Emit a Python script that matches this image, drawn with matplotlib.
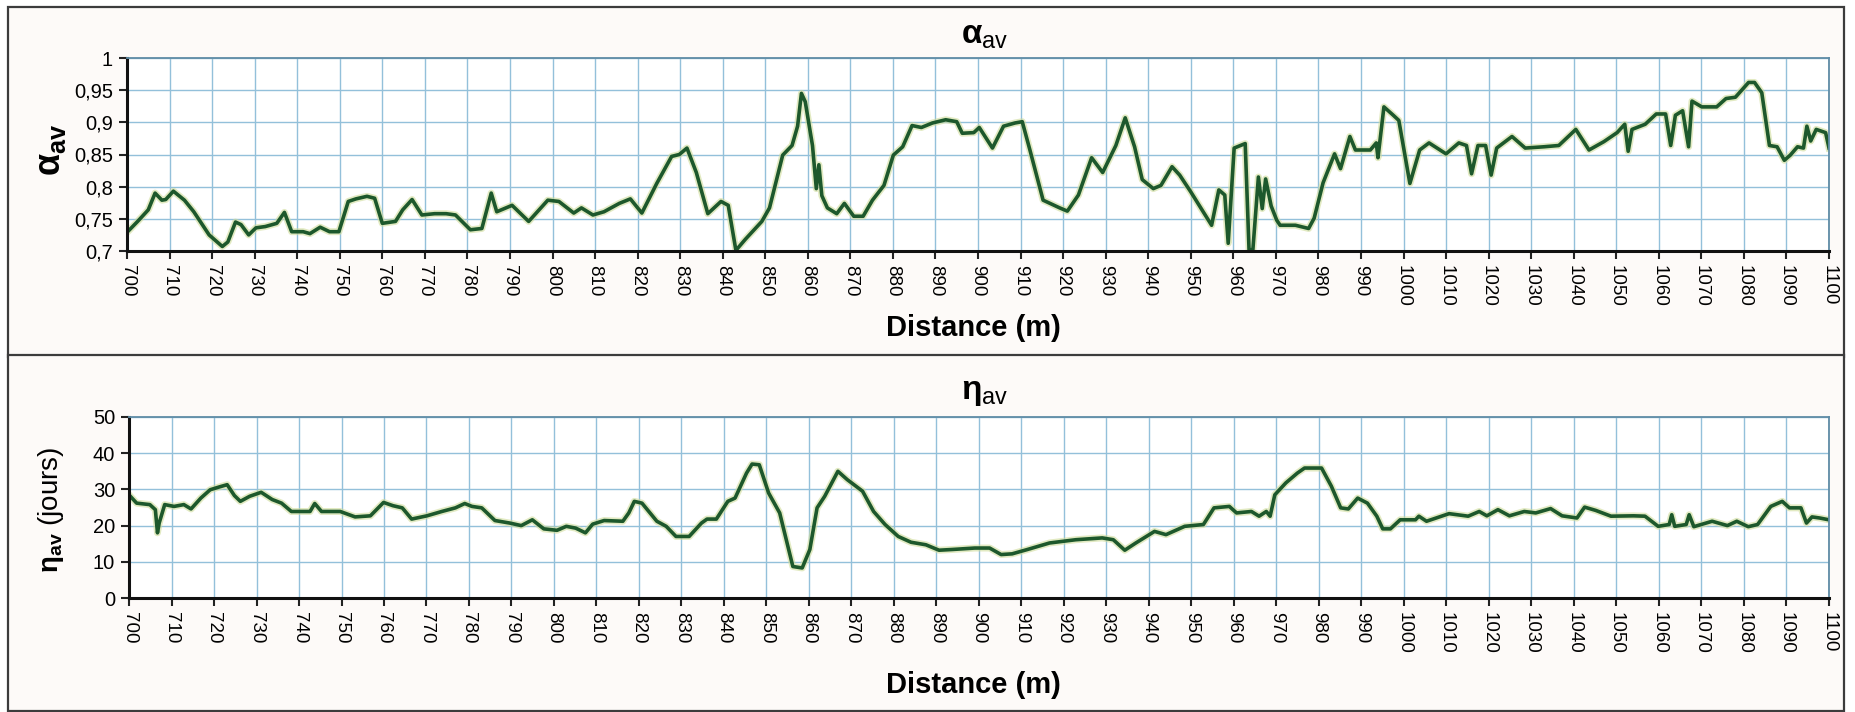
import matplotlib
matplotlib.use("Agg")
import matplotlib.pyplot as plt
from matplotlib.patches import Rectangle

plt.rcParams["font.family"] = ["Liberation Sans", "DejaVu Sans"]
plt.rcParams["mathtext.fontset"] = "custom"
plt.rcParams["mathtext.rm"] = "Liberation Sans"
plt.rcParams["mathtext.bf"] = "Liberation Sans:bold"
plt.rcParams["mathtext.it"] = "Liberation Sans"

# alpha_av profile (distance in m)
alpha_dist = [
    700, 702.5, 705, 706.6, 708.2, 709.1, 710.9, 713.5, 715.7, 719.3, 722.4, 723.7,
    725.5, 726.8, 728.6, 730.3, 732.5, 735.2, 737, 738.7, 741.4, 743, 745.4, 747.6,
    749.8, 752, 753.8, 756.4, 758.2, 760, 763.1, 764.8, 767, 769.3, 772.3, 775,
    777.2, 780.7, 783.4, 785.6, 786.9, 790.5, 794.4, 798.9, 801.5, 805, 806.8, 809.5,
    812.1, 815.7, 818.3, 821, 824.5, 828, 829.8, 831.6, 833.8, 836.5, 839.6, 841.3,
    843.1, 845.3, 849.2, 851, 854.1, 856.3, 857.6, 858.5, 859.4, 861.1, 862, 862.6,
    863.3, 864.6, 866.8, 868.6, 870.8, 873, 875.2, 877.9, 880.1, 882.3, 884.5, 886.7,
    889.3, 892.4, 895, 896.3, 899, 900.3, 903.4, 906, 908.7, 910.4, 912.2, 915.3,
    919.2, 921, 923.6, 926.7, 929.3, 932.4, 934.6, 936.8, 938.6, 941.2, 943, 945.6,
    947.4, 950, 954.9, 956.6, 958, 958.8, 960.2, 962.8, 963.7, 964.6, 965.9, 966.8,
    967.6, 968.9, 970.2, 971, 974.6, 977.7, 979, 981.1, 983.8, 985.2, 987.4, 988.7,
    992.2, 993.6, 994, 995.4, 997.6, 998.9, 1001.5, 1003.8, 1006, 1010, 1013, 1014.8,
    1016, 1017.5, 1019.3, 1020.6, 1021.9, 1025.5, 1028.6, 1033, 1036.5, 1040.5, 1043.6, 1047.1,
    1050.2, 1052, 1052.8, 1053.7, 1056.8, 1059.4, 1061.6, 1062.8, 1063.9, 1065.6, 1067, 1067.8,
    1070.1, 1073.6, 1075.8, 1078, 1081.1, 1082.5, 1084.2, 1086, 1087.8, 1089.5, 1090.9, 1092.6,
    1094, 1094.8, 1095.7, 1097, 1099.2, 1100,
]
alpha_val = [
    0.729, 0.746, 0.764, 0.790, 0.779, 0.780, 0.793, 0.779, 0.761, 0.725, 0.707, 0.714,
    0.745, 0.741, 0.725, 0.736, 0.738, 0.743, 0.760, 0.730, 0.730, 0.727, 0.737, 0.730,
    0.730, 0.777, 0.781, 0.785, 0.782, 0.743, 0.746, 0.764, 0.780, 0.756, 0.758, 0.758,
    0.756, 0.733, 0.735, 0.790, 0.761, 0.771, 0.746, 0.779, 0.777, 0.759, 0.767, 0.756,
    0.761, 0.774, 0.781, 0.759, 0.805, 0.847, 0.850, 0.860, 0.822, 0.758, 0.777, 0.771,
    0.701, 0.718, 0.746, 0.767, 0.849, 0.864, 0.894, 0.945, 0.932, 0.864, 0.797, 0.834,
    0.786, 0.767, 0.758, 0.774, 0.754, 0.754, 0.779, 0.802, 0.849, 0.862, 0.895, 0.892,
    0.899, 0.904, 0.901, 0.883, 0.884, 0.892, 0.860, 0.894, 0.899, 0.901, 0.857, 0.779,
    0.767, 0.762, 0.787, 0.845, 0.822, 0.864, 0.907, 0.862, 0.811, 0.797, 0.802, 0.831,
    0.818, 0.792, 0.740, 0.795, 0.787, 0.712, 0.860, 0.867, 0.702, 0.702, 0.815, 0.766,
    0.812, 0.770, 0.748, 0.740, 0.740, 0.735, 0.751, 0.806, 0.851, 0.828, 0.878, 0.857,
    0.857, 0.868, 0.845, 0.924, 0.911, 0.903, 0.805, 0.857, 0.868, 0.851, 0.868, 0.864,
    0.820, 0.864, 0.864, 0.818, 0.860, 0.878, 0.860, 0.862, 0.864, 0.889, 0.857, 0.870,
    0.884, 0.897, 0.855, 0.889, 0.897, 0.913, 0.913, 0.864, 0.911, 0.918, 0.862, 0.933,
    0.924, 0.924, 0.937, 0.939, 0.962, 0.962, 0.946, 0.864, 0.862, 0.841, 0.849, 0.862,
    0.860, 0.894, 0.871, 0.889, 0.884, 0.860,
]

# eta_av profile (days)
eta_dist = [
    700, 701.8, 704.9, 706.2, 706.7, 707.1, 708.4, 710.6, 712.9, 714.6, 716.9, 719.1,
    721.3, 723.1, 724.8, 726.2, 728.4, 731.1, 733.7, 735.9, 738.2, 740.8, 742.6, 743.7,
    745.3, 749.7, 753.2, 756.8, 759.9, 762.1, 764.3, 766.5, 770.1, 773.6, 776.8, 779,
    780.7, 783, 786.1, 789.6, 792.3, 794.9, 797.6, 800.7, 802.9, 805.1, 807.4, 809.1,
    811.8, 816.2, 817.6, 818.9, 820.7, 824.2, 826.4, 828.7, 831.8, 834.7, 836, 838.2,
    840.9, 842.6, 845.3, 846.6, 848.3, 850.5, 853.1, 856.2, 858.4, 860.2, 861.9, 863.7,
    866.8, 869, 872.6, 875.2, 877.9, 881, 884, 887.5, 890.6, 893.7, 899, 902.5,
    905.2, 907.8, 911.4, 916.6, 922.8, 929, 931.6, 934.3, 936.9, 941.3, 944, 948.4,
    952.8, 955.3, 958.9, 960.6, 964.1, 965.9, 967.6, 968.5, 969.6, 972.2, 974.9, 976.6,
    980.6, 982.9, 985.1, 986.9, 989.1, 991.4, 993.6, 995, 996.8, 999.1, 1002.7, 1003.5,
    1005.3, 1010.6, 1015.1, 1017.7, 1019.5, 1022.1, 1024.8, 1028.3, 1031, 1034.5, 1037.2, 1040.7,
    1042.5, 1045.1, 1048.7, 1054, 1056.7, 1059.8, 1062.4, 1063, 1063.7, 1066.4, 1067.1, 1068.2,
    1072.5, 1076.1, 1078.3, 1081, 1083.2, 1086.3, 1089, 1090.7, 1093.4, 1094.7, 1096, 1097.8,
    1100,
]
eta_val = [
    28.5, 26.2, 25.8, 24.4, 18.0, 20.7, 25.8, 25.3, 25.8, 24.6, 27.6, 29.9,
    30.7, 31.3, 28.3, 26.7, 28.1, 29.2, 27.2, 26.2, 23.9, 23.9, 23.9, 26.1,
    23.9, 23.9, 22.4, 22.7, 26.4, 25.5, 24.9, 21.8, 22.7, 23.9, 24.9, 26.1,
    25.3, 24.9, 21.4, 20.7, 20.0, 21.6, 19.1, 18.7, 19.8, 19.3, 18.0, 20.4,
    21.4, 21.2, 23.5, 26.7, 26.2, 21.2, 19.8, 17.0, 17.0, 20.7, 21.8, 21.8,
    26.7, 27.6, 34.5, 37.0, 36.8, 29.0, 23.5, 8.7, 8.3, 13.4, 24.9, 28.1,
    35.0, 32.7, 29.5, 23.9, 20.3, 17.0, 15.4, 14.7, 13.2, 13.4, 13.8, 13.8,
    12.0, 12.2, 13.4, 15.2, 16.1, 16.6, 16.1, 13.2, 15.2, 18.4, 17.5, 19.8,
    20.3, 24.9, 25.3, 23.5, 23.9, 22.6, 23.9, 22.6, 28.5, 31.8, 34.5, 35.9,
    35.9, 30.9, 24.9, 24.6, 27.6, 26.2, 22.6, 19.1, 19.1, 21.6, 21.6, 22.6,
    21.2, 23.3, 22.6, 23.9, 22.7, 24.4, 22.7, 23.9, 23.5, 24.7, 22.7, 22.1,
    25.1, 24.2, 22.6, 22.7, 22.6, 19.8, 20.3, 23.0, 19.8, 20.3, 23.0, 19.7,
    21.2, 20.0, 21.2, 19.7, 20.3, 25.3, 26.7, 24.9, 24.9, 20.7, 22.4, 22.1,
    21.6,
]

x_ticks = list(range(700, 1101, 10))
alpha_ticks = [0.7, 0.75, 0.8, 0.85, 0.9, 0.95, 1.0]
alpha_tick_labels = ["0,7", "0,75", "0,8", "0,85", "0,9", "0,95", "1"]
eta_ticks = [0, 10, 20, 30, 40, 50]
eta_tick_labels = ["0", "10", "20", "30", "40", "50"]

LINE_COLOR = "#1d582c"
GRID_COLOR = "#93c0da"


def style_axis(ax, yticks, ylabels, ylim):
    ax.set_xlim(700, 1100)
    ax.set_ylim(*ylim)
    ax.set_xticks(x_ticks)
    ax.set_xticklabels([str(t) for t in x_ticks], rotation=-90, fontsize=13.5)
    ax.set_yticks(yticks)
    ax.set_yticklabels(ylabels, fontsize=14.5)
    ax.grid(True, color=GRID_COLOR, linewidth=1.0)
    ax.set_axisbelow(True)
    ax.tick_params(axis="both", direction="out", length=6, width=1.5, color="#222222", pad=4)
    for side in ["left", "bottom"]:
        ax.spines[side].set_color("#111111")
        ax.spines[side].set_linewidth(2.2)
    for side in ["top", "right"]:
        ax.spines[side].set_color("#5f8ca6")
        ax.spines[side].set_linewidth(1.3)
    ax.set_facecolor("white")


def main() -> None:
    fig = plt.figure(figsize=(18.56, 7.12), dpi=100)
    fig.patch.set_facecolor("white")

    # chart-area frames, drawn under the axes
    for y0, h in [(1 - 357 / 712, 350 / 712), (1 / 712, 356 / 712)]:
        fig.patches.append(
            Rectangle((8 / 1856, y0), 1836 / 1856, h, transform=fig.transFigure,
                      facecolor="#fdfaf8", edgecolor="#3c3c3c", linewidth=1.6, zorder=-5)
        )

    ax_top = fig.add_axes([127 / 1856, 1 - 251 / 712, 1702 / 1856, 193 / 712])
    ax_bot = fig.add_axes([129 / 1856, 1 - 598 / 712, 1700 / 1856, 181 / 712])
    ax_top.set_zorder(2)
    ax_bot.set_zorder(2)

    ax_top.plot(alpha_dist, alpha_val, color="#cfdc9a", linewidth=5, alpha=0.6)
    ax_top.plot(alpha_dist, alpha_val, color=LINE_COLOR, linewidth=2.6)
    style_axis(ax_top, alpha_ticks, alpha_tick_labels, (0.7, 1.0))

    ax_bot.plot(eta_dist, eta_val, color="#cfdc9a", linewidth=5, alpha=0.6)
    ax_bot.plot(eta_dist, eta_val, color=LINE_COLOR, linewidth=2.6)
    style_axis(ax_bot, eta_ticks, eta_tick_labels, (0, 50))

    fig.text(985 / 1856, 1 - 35 / 712, r"$\mathbf{\alpha}_{\mathrm{av}}$", fontsize=24,
             ha="center", va="center")
    fig.text(985 / 1856, 1 - 392 / 712, r"$\mathbf{\eta}_{\mathrm{av}}$", fontsize=24,
             ha="center", va="center")

    fig.text(973 / 1856, 1 - 328 / 712, "Distance (m)", fontsize=21, fontweight="bold",
             ha="center", va="center")
    fig.text(973 / 1856, 1 - 685 / 712, "Distance (m)", fontsize=21, fontweight="bold",
             ha="center", va="center")

    fig.text(51 / 1856, 1 - 150 / 712, r"$\mathbf{\alpha_{av}}$", fontsize=26,
             rotation=90, ha="center", va="center")
    fig.text(51 / 1856, 1 - 510 / 712, r"$\mathbf{\eta_{av}}$ (jours)", fontsize=20,
             rotation=90, ha="center", va="center")

    fig.savefig("out.png", dpi=100, facecolor=fig.get_facecolor())
    plt.close(fig)


if __name__ == "__main__":
    main()
